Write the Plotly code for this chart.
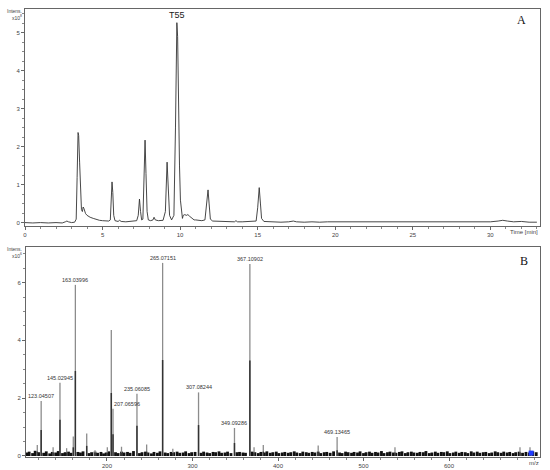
import plotly.graph_objects as go

# ---------------- Panel A: chromatogram (x10^8) ----------------
chrom_time = [0.0, 0.5, 1.0, 1.5, 2.0, 2.4, 2.6, 2.7, 2.8, 3.0, 3.2, 3.3, 3.36, 3.42, 3.46, 3.52,
              3.58, 3.64, 3.7, 3.75, 3.8, 3.9, 4.0, 4.1, 4.2, 4.4, 4.6, 4.8, 5.0, 5.2, 5.4, 5.5,
              5.56, 5.61, 5.66, 5.72, 5.8, 6.0, 6.1, 6.2, 6.5, 6.8, 7.0, 7.2, 7.3, 7.38, 7.45,
              7.52, 7.6, 7.68, 7.74, 7.8, 7.87, 7.95, 8.1, 8.25, 8.32, 8.4, 8.6, 8.9, 9.05, 9.16,
              9.24, 9.32, 9.45, 9.6, 9.7, 9.79, 9.84, 9.9, 9.96, 10.02, 10.1, 10.15, 10.2, 10.3,
              10.4, 10.5, 10.6, 10.7, 10.8, 10.9, 11.0, 11.2, 11.4, 11.6, 11.72, 11.8, 11.87,
              11.95, 12.1, 12.5, 13.0, 13.5, 13.6, 13.7, 14.0, 14.5, 14.9, 15.0, 15.1, 15.18,
              15.25, 15.4, 15.8, 16.5, 17.0, 17.3, 17.5, 18.0, 18.5, 19.0, 19.5, 20.0, 20.5,
              21.0, 22.0, 23.0, 24.0, 25.0, 26.0, 27.0, 28.0, 29.0, 30.0, 30.5, 30.8, 31.1,
              31.5, 32.0, 32.5, 33.0]
chrom_int = [0.01, 0.0, 0.01, 0.0, 0.01, 0.0, 0.03, 0.05, 0.03, 0.01, 0.02, 0.1, 1.2, 2.38, 2.3, 1.6,
             0.8, 0.35, 0.3, 0.42, 0.38, 0.25, 0.2, 0.17, 0.15, 0.12, 0.09, 0.07, 0.06, 0.05, 0.05, 0.08,
             0.6, 1.08, 0.8, 0.2, 0.06, 0.04, 0.07, 0.04, 0.03, 0.04, 0.05, 0.06, 0.2, 0.63, 0.3,
             0.08, 0.1, 1.2, 2.18, 1.3, 0.3, 0.08, 0.06, 0.08, 0.15, 0.08, 0.06, 0.07, 0.3, 1.6,
             0.9, 0.2, 0.08, 0.2, 2.5, 5.27, 4.9, 2.9, 1.5, 0.6, 0.3, 0.12, 0.2, 0.22,
             0.2, 0.22, 0.18, 0.15, 0.12, 0.08, 0.08, 0.06, 0.06, 0.08, 0.5, 0.87, 0.5,
             0.1, 0.05, 0.04, 0.04, 0.03, 0.06, 0.03, 0.03, 0.04, 0.05, 0.4, 0.93, 0.5,
             0.12, 0.04, 0.03, 0.02, 0.03, 0.05, 0.03, 0.02, 0.03, 0.02, 0.03, 0.03, 0.02,
             0.02, 0.02, 0.03, 0.02, 0.03, 0.02, 0.02, 0.03, 0.02, 0.03, 0.05, 0.07, 0.05,
             0.03, 0.04, 0.02, 0.02]
a_xticks = [0, 5, 10, 15, 20, 25, 30]
a_yticks = [0, 1, 2, 3, 4, 5]
main_peak_label = "T55"
main_peak_time = 9.79
main_peak_height = 5.27

# ---------------- Panel B: mass spectrum (x10^6) ----------------
label_mz = [123.04507, 145.02945, 163.03996, 207.06596, 235.06085, 265.07151,
            307.08244, 349.09286, 367.10902, 469.13465]
label_int = [1.9, 2.53, 5.92, 1.63, 2.15, 6.68, 2.2, 0.97, 6.64, 0.66]
label_core = [0.9, 1.25, 2.94, 0.75, 1.05, 3.32, 1.07, 0.45, 3.3, 0.2]

other_mz = [118.5, 137.0, 152.8, 160.6, 176.3, 186.0, 200.4, 205.05, 217.0, 246.4, 277.0,
            372.0, 382.8, 447.0, 536.8, 683.0, 694.7]
other_int = [0.38, 0.3, 0.27, 0.67, 0.78, 0.2, 0.3, 4.36, 0.32, 0.4, 0.25,
             0.3, 0.38, 0.36, 0.3, 0.3, 0.3]
other_core = [0.15, 0.12, 0.12, 0.3, 0.35, 0.1, 0.12, 2.18, 0.12, 0.15, 0.1,
              0.12, 0.15, 0.15, 0.12, 0.12, 0.12]

noise_mz = [106, 109, 113, 116, 120, 126, 129, 133, 136, 140, 143, 148, 151, 155, 158, 166, 169,
            172, 179, 182, 186, 189, 193, 196, 199, 202, 210, 213, 217, 220, 224, 227, 231, 238,
            241, 245, 248, 252, 255, 259, 262, 268, 271, 275, 278, 282, 285, 289, 292, 296, 299,
            303, 310, 313, 317, 320, 324, 327, 331, 334, 338, 341, 345, 352, 355, 359, 362, 370,
            373, 377, 380, 384, 387, 391, 394, 398, 401, 405, 408, 412, 415, 419, 422, 426, 429,
            433, 436, 440, 443, 447, 450, 454, 457, 461, 465, 472, 475, 479, 482, 486, 489, 493,
            496, 500, 503, 507, 510, 514, 517, 521, 524, 528, 531, 535, 538, 542, 545, 549, 552,
            556, 559, 563, 566, 570, 573, 577, 580, 584, 587, 591, 594, 598, 601, 605, 608, 612,
            615, 619, 622, 626, 629, 633, 636, 640, 643, 647, 650, 654, 657, 661, 664, 668, 671,
            675, 678, 682, 686, 690, 694, 698, 702]
noise_int = [0.12, 0.15, 0.1, 0.18, 0.13, 0.11, 0.16, 0.09, 0.14, 0.12, 0.17, 0.1, 0.13, 0.15, 0.11, 0.14, 0.12,
             0.16, 0.1, 0.13, 0.15, 0.11, 0.14, 0.09, 0.12, 0.16, 0.13, 0.1, 0.15, 0.12, 0.14, 0.11, 0.17, 0.1,
             0.13, 0.15, 0.12, 0.09, 0.14, 0.11, 0.16, 0.12, 0.1, 0.14, 0.13, 0.15, 0.11, 0.12, 0.16, 0.1, 0.13,
             0.14, 0.11, 0.15, 0.12, 0.1, 0.14, 0.13, 0.16, 0.11, 0.12, 0.15, 0.1, 0.13, 0.14, 0.12, 0.11, 0.15,
             0.13, 0.1, 0.14, 0.12, 0.16, 0.11, 0.13, 0.15, 0.1, 0.12, 0.14, 0.11, 0.13, 0.16, 0.12, 0.1, 0.15,
             0.13, 0.11, 0.14, 0.12, 0.15, 0.1, 0.13, 0.14, 0.11, 0.16, 0.12, 0.1, 0.15, 0.13, 0.11, 0.14, 0.12,
             0.16, 0.1, 0.13, 0.15, 0.11, 0.14, 0.12, 0.17, 0.1, 0.13, 0.15, 0.12, 0.11, 0.14, 0.16, 0.1, 0.13,
             0.15, 0.12, 0.11, 0.14, 0.13, 0.17, 0.1, 0.12, 0.15, 0.11, 0.14, 0.13, 0.16, 0.1, 0.12, 0.15, 0.11,
             0.14, 0.13, 0.1, 0.16, 0.12, 0.15, 0.11, 0.13, 0.14, 0.1, 0.12, 0.16, 0.13, 0.11, 0.15, 0.12, 0.14,
             0.1, 0.13, 0.15, 0.11, 0.14, 0.12, 0.16, 0.13]
b_xticks = [200, 300, 400, 500, 600]
b_yticks = [0, 2, 4, 6]
precursor_mz = 696.0
precursor_int = 0.1


def sticks(xs, ys):
    px, py = [], []
    for x, y in zip(xs, ys):
        px += [x, x, None]
        py += [0, y, None]
    return px, py


fig = go.Figure()

# chromatogram
fig.add_trace(go.Scatter(x=chrom_time, y=chrom_int, mode="lines",
                         line=dict(color="#333333", width=0.9), xaxis="x", yaxis="y",
                         showlegend=False, hoverinfo="skip"))

# spectrum: noise, minor peaks, labelled peaks (outer grey + darker core)
nx, ny = sticks(noise_mz, noise_int)
fig.add_trace(go.Scatter(x=nx, y=ny, mode="lines", line=dict(color="#111111", width=2.8),
                         xaxis="x2", yaxis="y2", showlegend=False, hoverinfo="skip"))
ox, oy = sticks(other_mz + label_mz, other_int + label_int)
fig.add_trace(go.Scatter(x=ox, y=oy, mode="lines", line=dict(color="#8c8c8c", width=1.3),
                         xaxis="x2", yaxis="y2", showlegend=False, hoverinfo="skip"))
cx, cy = sticks(other_mz + label_mz, other_core + label_core)
fig.add_trace(go.Scatter(x=cx, y=cy, mode="lines", line=dict(color="#333333", width=1.5),
                         xaxis="x2", yaxis="y2", showlegend=False, hoverinfo="skip"))
fig.add_trace(go.Scatter(x=[precursor_mz], y=[precursor_int], mode="markers",
                         marker=dict(symbol="square", size=5, color="#1f3cff"),
                         xaxis="x2", yaxis="y2", showlegend=False, hoverinfo="skip"))

tickfont = dict(family="Liberation Sans", size=6, color="#444444")
axis_common = dict(showline=True, linecolor="#666666", linewidth=1, mirror=True,
                   ticks="outside", ticklen=3, tickcolor="#666666", showgrid=False,
                   zeroline=False, tickfont=tickfont, automargin=False)

fig.update_layout(
    width=550, height=470,
    margin=dict(l=0, r=0, t=0, b=0, autoexpand=False),
    paper_bgcolor="white", plot_bgcolor="white",
    xaxis=dict(domain=[25 / 550, 540 / 550], range=[0, 33.2], anchor="y",
               tickvals=a_xticks, minor=dict(dtick=1, ticks="outside", ticklen=2, tickcolor="#888"),
               **axis_common),
    yaxis=dict(domain=[1 - 226 / 470, 1 - 9 / 470], range=[-0.08, 5.63], anchor="x",
               tickvals=a_yticks, minor=dict(dtick=0.25, ticks="outside", ticklen=2, tickcolor="#888"),
               **axis_common),
    xaxis2=dict(domain=[26 / 550, 540 / 550], range=[105.3, 706.4], anchor="y2",
                tickvals=b_xticks, minor=dict(dtick=20, ticks="outside", ticklen=2, tickcolor="#888"),
                **axis_common),
    yaxis2=dict(domain=[1 - 457 / 470, 1 - 247 / 470], range=[-0.035, 7.23], anchor="x2",
                tickvals=b_yticks, minor=dict(dtick=0.5, ticks="outside", ticklen=2, tickcolor="#888"),
                **axis_common),
)

ann = []
# peak labels in B
for m, h in zip(label_mz, label_int):
    if abs(m - 207.06596) < 0.01:
        ann.append(dict(x=m, y=h, xref="x2", yref="y2", text=f"{m:.5f}", showarrow=False,
                        xanchor="left", yanchor="bottom", xshift=-1,
                        font=dict(family="Liberation Sans", size=5.5, color="#333")))
    else:
        ann.append(dict(x=m, y=h, xref="x2", yref="y2", text=f"{m:.5f}", showarrow=False,
                        xanchor="center", yanchor="bottom", yshift=0,
                        font=dict(family="Liberation Sans", size=5.5, color="#333")))
# T55 label
ann.append(dict(x=main_peak_time, y=main_peak_height, xref="x", yref="y", text=main_peak_label,
                showarrow=False, xanchor="center", yanchor="bottom", yshift=1,
                font=dict(family="Liberation Sans", size=9, color="#222")))
# axis titles / panel letters
ann += [
    dict(x=14 / 550, y=1 - 6 / 470, xref="paper", yref="paper", text="Intens.<br>x10<sup>8</sup>",
         showarrow=False, xanchor="center", yanchor="top", align="right",
         font=dict(family="Liberation Sans", size=5, color="#444")),
    dict(x=14 / 550, y=1 - 244 / 470, xref="paper", yref="paper", text="Intens.<br>x10<sup>6</sup>",
         showarrow=False, xanchor="center", yanchor="top", align="right",
         font=dict(family="Liberation Sans", size=5, color="#444")),
    dict(x=540 / 550, y=1 - 232 / 470, xref="paper", yref="paper", text="Time [min]",
         showarrow=False, xanchor="right", yanchor="middle",
         font=dict(family="Liberation Sans", size=6, color="#444")),
    dict(x=534 / 550, y=1 - 463 / 470, xref="paper", yref="paper", text="m/z",
         showarrow=False, xanchor="center", yanchor="middle",
         font=dict(family="Liberation Sans", size=6, color="#444")),
    dict(x=521 / 550, y=1 - 20 / 470, xref="paper", yref="paper", text="A",
         showarrow=False, xanchor="center", yanchor="middle",
         font=dict(family="Liberation Serif", size=12, color="#111")),
    dict(x=524 / 550, y=1 - 261 / 470, xref="paper", yref="paper", text="B",
         showarrow=False, xanchor="center", yanchor="middle",
         font=dict(family="Liberation Serif", size=12, color="#111")),
]
fig.update_layout(annotations=ann)

fig.write_html("out.html", config={"displayModeBar": False},
               post_script="document.body.style.margin='0';")
